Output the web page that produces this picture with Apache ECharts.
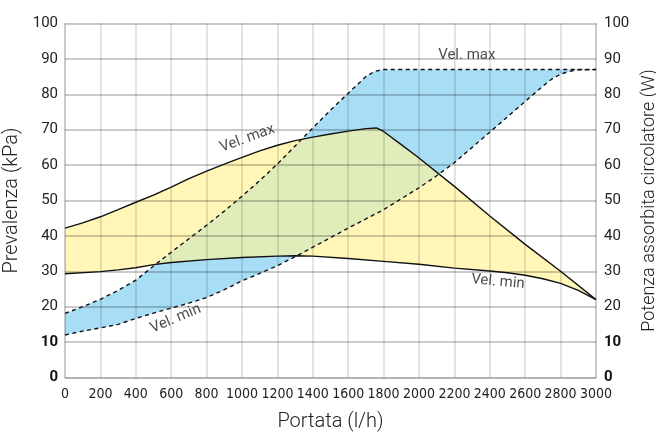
<!DOCTYPE html>
<html>
<head>
<meta charset="utf-8">
<script src="https://cdn.jsdelivr.net/npm/echarts@6/dist/echarts.min.js"></script>
<style>html,body{margin:0;padding:0;background:#fff;}#c{width:656px;height:441px;}</style>
</head>
<body>
<div id="c"></div>
<script>
// Prevalenza (kPa) - velocità max (solid)
const pMaxX = [0,100,200,300,400,500,600,700,800,900,1000,1100,1200,1300,1400,1500,1600,1700,1760,1800,1900,2000,2200,2400,2600,2800,3000];
const pMaxY = [42.2,43.7,45.4,47.4,49.5,51.5,53.8,56.2,58.3,60.3,62.2,64.0,65.6,66.9,67.9,68.8,69.6,70.3,70.5,69.5,65.8,62.0,54.0,45.6,37.6,30.0,22.0];
// Prevalenza (kPa) - velocità min (solid)
const pMinX = [0,200,300,400,500,600,800,1000,1200,1300,1400,1600,1800,2000,2200,2400,2500,2600,2700,2800,2900,3000];
const pMinY = [29.3,29.9,30.4,31.0,31.9,32.5,33.3,33.9,34.3,34.4,34.3,33.6,32.8,32.0,30.9,30.1,29.6,28.9,27.9,26.6,24.6,22.0];
// Potenza assorbita (W) - velocità max (dashed)
const wMaxX = [0,100,200,300,400,500,600,700,800,900,1000,1100,1200,1300,1400,1500,1600,1700,1750,1800,3000];
const wMaxY = [18.1,20.0,22.1,24.6,27.5,31.5,35.4,39.2,43.0,47.0,51.2,55.6,60.3,65.4,70.5,75.5,80.3,85.0,86.5,87.0,87.0];
// Potenza assorbita (W) - velocità min (dashed)
const wMinX = [0,100,200,300,400,500,600,700,800,900,1000,1100,1200,1300,1400,1600,1800,2000,2100,2200,2400,2600,2700,2750,2800,2850,2900,3000];
const wMinY = [12.0,13.1,14.0,15.0,16.7,18.2,19.6,21.0,22.6,24.8,27.3,29.4,31.6,34.1,36.8,42.2,47.4,53.6,57.0,60.7,69.3,78.0,82.3,84.3,85.7,86.5,86.9,87.0];

const xTicks = [0,200,400,600,800,1000,1200,1400,1600,1800,2000,2200,2400,2600,2800,3000];
const yTicks = [0,10,20,30,40,50,60,70,80,90,100];

const labelTexts = ['Vel. max','Vel. max','Vel. min','Vel. min'];
const labelX = [1030, 2270, 625, 2446];
const labelY = [67.5, 91, 16.6, 27];
const labelRot = [20, 0, 23, -5];

const pair = (xs, ys) => xs.map((x, i) => [x, ys[i]]);
const pMax = pair(pMaxX, pMaxY), pMin = pair(pMinX, pMinY);
const wMax = pair(wMaxX, wMaxY), wMin = pair(wMinX, wMinY);

function lerp(xs, ys, x) {
  for (let i = 1; i < xs.length; i++) {
    if (x <= xs[i]) { const t = (x - xs[i-1]) / (xs[i] - xs[i-1]); return ys[i-1] + t * (ys[i] - ys[i-1]); }
  }
  return ys[ys.length - 1];
}
// overlap region of the two bands (geometry for the green fill)
const ovUp = [], ovLo = [];
for (let x = 0; x <= 3000; x += 5) {
  const lo = Math.max(lerp(pMinX, pMinY, x), lerp(wMinX, wMinY, x));
  const hi = Math.min(lerp(pMaxX, pMaxY, x), lerp(wMaxX, wMaxY, x));
  if (hi > lo) { ovUp.push([x, hi]); ovLo.push([x, lo]); }
}

function band(upper, lower, color, yIdx) {
  return {
    type: 'custom', coordinateSystem: 'cartesian2d', yAxisIndex: yIdx, z: -1, silent: true,
    data: [[0, 0]],
    renderItem: function (params, api) {
      const pts = upper.map(p => api.coord(p)).concat(lower.slice().reverse().map(p => api.coord(p)));
      return { type: 'polygon', shape: { points: pts }, style: { fill: color } };
    }
  };
}
function line(data, dashed, yIdx) {
  return {
    type: 'line', data: data, yAxisIndex: yIdx, symbol: 'none', z: 5, silent: true,
    lineStyle: { color: '#111', width: 1.4, type: dashed ? [4, 3.5] : 'solid' }
  };
}

const FONT = 'Roboto, "Liberation Sans", sans-serif';
const NARROW = '"Liberation Sans Narrow", "DejaVu Sans Condensed", Roboto, sans-serif';
const GRIDC = 'rgba(0,0,0,0.15)';

function yAxisCfg(name, pos) {
  return {
    type: 'value', min: 0, max: 100, interval: 10, position: pos,
    name: name, nameLocation: 'middle', nameRotate: 90, nameGap: pos === 'left' ? 37 : 40,
    nameTextStyle: { fontFamily: FONT, fontWeight: 300, fontSize: pos === 'left' ? 20 : 18, color: '#222' },
    axisLine: { show: true, lineStyle: { color: GRIDC, width: 1.5 } },
    axisTick: { show: false },
    splitLine: { show: true, lineStyle: { color: GRIDC, width: 1.5 } },
    axisLabel: {
      margin: pos === 'left' ? 7 : 8, fontFamily: FONT, fontSize: 15, color: '#222',
      formatter: v => (v <= 10 ? '{b|' + v + '}' : String(v)),
      rich: { b: { fontFamily: FONT, fontSize: 15, fontWeight: 'bold', color: '#111' } }
    }
  };
}

const chart = echarts.init(document.getElementById('c'), null, { renderer: 'canvas' });
chart.setOption({
  animation: false,
  backgroundColor: '#fff',
  grid: { left: 65, right: 60, top: 23.5, bottom: 63.5, show: false, containLabel: false, outerBoundsMode: 'none' },
  xAxis: {
    type: 'value', min: 0, max: 3000, interval: 200,
    name: 'Portata (l/h)', nameLocation: 'middle', nameGap: 34,
    nameTextStyle: { fontFamily: FONT, fontWeight: 300, fontSize: 20, color: '#222' },
    axisLine: { show: true, lineStyle: { color: GRIDC, width: 1.5 } },
    axisTick: { show: false },
    splitLine: { show: true, lineStyle: { color: GRIDC, width: 1.5 } },
    axisLabel: { margin: 10, fontFamily: NARROW, fontSize: 14, color: '#222',
      customValues: xTicks, formatter: v => String(v) }
  },
  yAxis: [ yAxisCfg('Prevalenza (kPa)', 'left'), yAxisCfg('Potenza assorbita circolatore (W)', 'right') ],
  series: [
    band(pMax, pMin, 'rgb(255,246,183)', 0),
    band(wMax, wMin, 'rgb(168,221,246)', 1),
    band(ovUp, ovLo, 'rgb(224,236,185)', 0),
    line(pMax, false, 0),
    line(pMin, false, 0),
    line(wMax, true, 1),
    line(wMin, true, 1),
    {
      type: 'scatter', symbol: 'circle', symbolSize: 1, z: 6, silent: true,
      itemStyle: { color: 'rgba(0,0,0,0)' },
      data: labelTexts.map((t, i) => ({
        value: [labelX[i], labelY[i]],
        label: { show: true, position: 'inside', formatter: t, rotate: labelRot[i],
          fontFamily: FONT, fontSize: 15, color: '#222' }
      }))
    }
  ]
});
</script>
</body>
</html>
